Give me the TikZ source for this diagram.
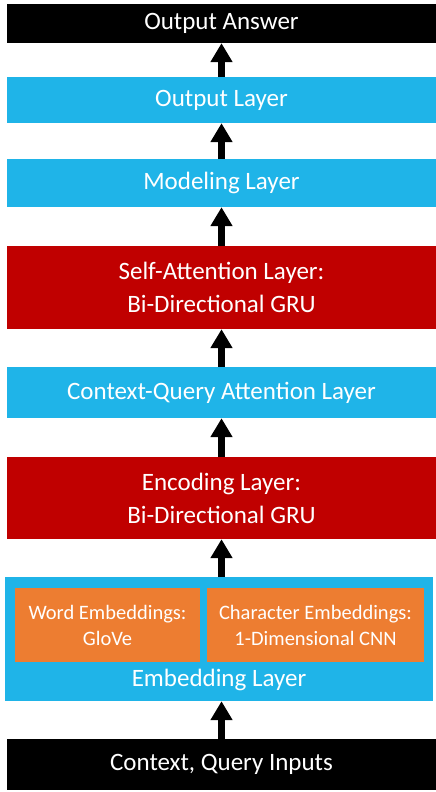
\documentclass[tikz,border=0pt]{standalone}
\usepackage{fontspec}
\setmainfont{Carlito}
\usetikzlibrary{arrows.meta,positioning}
\definecolor{layerblue}{HTML}{1FB4E8}
\definecolor{layerred}{HTML}{C00000}
\definecolor{embedorange}{HTML}{ED7D31}
\tikzset{
  layer/.style={rectangle, inner sep=0pt, align=center, text=white,
    font=\fontsize{25}{33}\selectfont, minimum width=429pt},
  bluelayer/.style={layer, fill=layerblue},
  redlayer/.style={layer, fill=layerred},
  blacklayer/.style={layer, fill=black},
  embedbox/.style={rectangle, inner sep=0pt, align=center, text=white,
    fill=embedorange, font=\fontsize{20.5}{26}\selectfont, minimum height=74pt},
  uparrow/.style={-{Triangle[width=21pt,length=19pt]}, line width=6.5pt, black}
}
\begin{document}
\begin{tikzpicture}[x=1pt,y=1pt]
  \useasboundingbox (0,0) rectangle (436,-792);

  \node[blacklayer, minimum height=39pt] (ans) at (221.5,-23.5) {Output Answer};
  \node[bluelayer, minimum height=46pt] (out) at (221.5,-100) {Output Layer};
  \node[bluelayer, minimum height=48pt] (model) at (221.5,-183) {Modeling Layer};
  \node[redlayer, minimum height=83pt] (self) at (221.5,-287.5) {Self-Attention Layer:\\Bi-Directional GRU};
  \node[bluelayer, minimum height=51pt] (cq) at (221.5,-392.5) {Context-Query Attention Layer};
  \node[redlayer, minimum height=82pt] (enc) at (221.5,-498) {Encoding Layer:\\Bi-Directional GRU};

  % embedding block with the two sub-embeddings
  \node[bluelayer, minimum width=428pt, minimum height=124pt] (emb) at (219,-639) {};
  \node[embedbox, minimum width=185pt] (word) at (107.5,-625) {Word Embeddings:\\GloVe};
  \node[embedbox, minimum width=217pt] (char) at (315.5,-625) {Character Embeddings:\\1-Dimensional CNN};
  \node[layer, minimum width=0pt] (embtext) at (219,-680) {Embedding Layer};

  \node[blacklayer, minimum height=51pt] (inp) at (221.5,-764.5) {Context, Query Inputs};

  \draw[uparrow] (inp.north) -- (emb.south -| inp.north);
  \draw[uparrow] (emb.north -| enc.south) -- (enc.south);
  \draw[uparrow] (enc.north) -- (cq.south);
  \draw[uparrow] (cq.north) -- (self.south);
  \draw[uparrow] (self.north) -- (model.south);
  \draw[uparrow] (model.north) -- (out.south);
  \draw[uparrow] (out.north) -- (ans.south);
\end{tikzpicture}
\end{document}
